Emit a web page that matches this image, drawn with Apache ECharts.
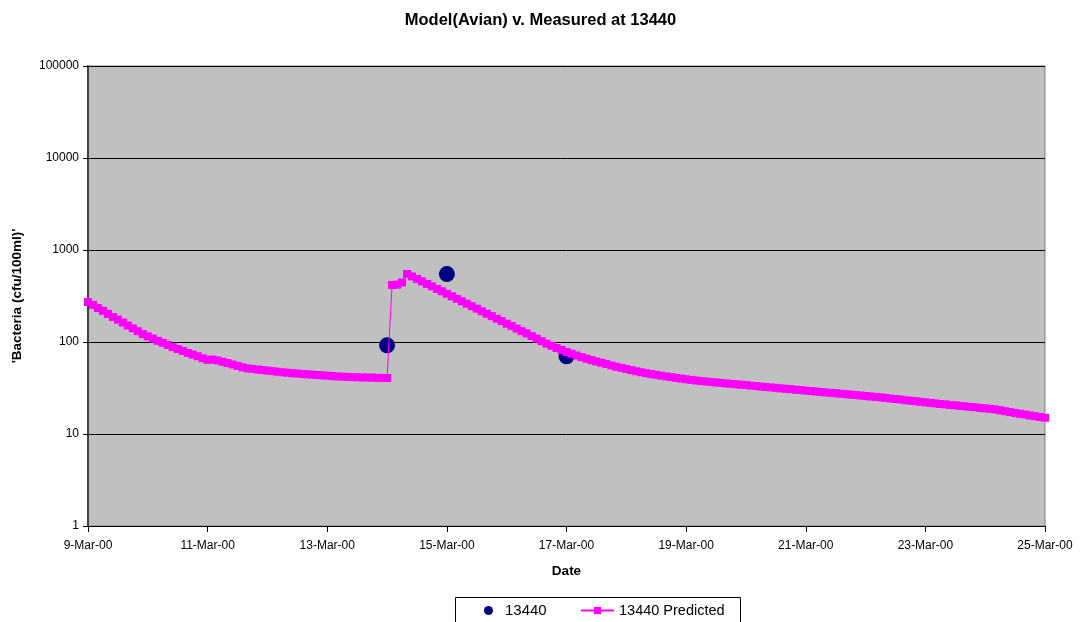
<!DOCTYPE html>
<html>
<head>
<meta charset="utf-8">
<title>Model(Avian) v. Measured at 13440</title>
<script src="https://cdn.jsdelivr.net/npm/echarts@6/dist/echarts.min.js"></script>
<style>
  html, body { margin: 0; padding: 0; background: #ffffff; }
  #chart { width: 1081px; height: 622px; }
</style>
</head>
<body>
<div id="chart"></div>
<script>
// Axis range (dates) and tick spacing along x, in days
const axisStart = '2000-03-09';
const axisEnd = '2000-03-25';
const dayTickStep = 2;
const monthNames = ['Jan','Feb','Mar','Apr','May','Jun','Jul','Aug','Sep','Oct','Nov','Dec'];

// y-axis decades (log scale)
const yTicks = [1, 10, 100, 1000, 10000, 100000];

// Measured bacteria counts at station 13440
const measuredDates = ['2000-03-14T00:00', '2000-03-15T00:00', '2000-03-17T00:00'];
const measuredValues = [92, 548, 70];

// Modelled counts, one value every 2 hours from 9-Mar-00 00:00
const predictedStart = '2000-03-09T00:00';
const predictedStepHours = 2;
const predictedValues = [
  272, 253, 234, 218, 202, 187, 175, 163, 151, 141, 131, 122,          // 9-Mar
  115, 109, 103, 98, 93, 88, 84, 80, 76, 73, 70, 66.5,                 // 10-Mar
  64, 64.5, 63, 61, 59, 57, 55, 53, 51.6, 51, 50.2, 49.5,              // 11-Mar
  48.9, 48.2, 47.5, 46.9, 46.3, 45.8, 45.4, 45.0, 44.6, 44.2, 43.8, 43.4, // 12-Mar
  43.0, 42.6, 42.2, 41.9, 41.7, 41.5, 41.4, 41.2, 41.1, 41.0, 40.8, 40.7, // 13-Mar
  40.6, 417, 420, 443, 549, 516, 485, 456, 428, 403, 378, 356,        // 14-Mar
  334, 314, 295, 277, 261, 245, 230, 216, 203, 191, 179, 169,          // 15-Mar
  158, 149, 140, 131, 124, 116, 109, 102, 96, 91, 86, 82,              // 16-Mar
  78, 74.6, 71.4, 68.5, 65.9, 63.5, 61.4, 59.4, 57.7, 55.5, 53.8, 52.4, // 17-Mar
  50.8, 49.4, 48.1, 46.9, 45.8, 44.8, 43.9, 43.1, 42.3, 41.5, 40.7, 40.0, // 18-Mar
  39.4, 38.7, 38.1, 37.6, 37.2, 36.7, 36.3, 35.9, 35.5, 35.1, 34.7, 34.4, // 19-Mar
  34.0, 33.6, 33.2, 32.8, 32.4, 32.1, 31.7, 31.3, 31.0, 30.7, 30.3, 30.0, // 20-Mar
  29.6, 29.3, 29.0, 28.6, 28.3, 28.0, 27.7, 27.4, 27.1, 26.8, 26.5, 26.2, // 21-Mar
  25.9, 25.6, 25.3, 25.0, 24.7, 24.3, 24.0, 23.7, 23.3, 23.0, 22.7, 22.4, // 22-Mar
  22.1, 21.8, 21.5, 21.2, 21.0, 20.7, 20.5, 20.2, 20.0, 19.7, 19.5, 19.2, // 23-Mar
  19.0, 18.8, 18.5, 18.1, 17.7, 17.3, 16.9, 16.6, 16.3, 15.9, 15.6, 15.3, // 24-Mar
  15.0                                                                  // 25-Mar
];

const DAY_MS = 86400000;
function utc(s) {
  const [d, t] = s.split('T');
  const [y, m, dd] = d.split('-').map(Number);
  const [hh, mm] = (t || '00:00').split(':').map(Number);
  return Date.UTC(y, m - 1, dd, hh, mm);
}
const origin = utc(axisStart);
const dayOffset = s => (utc(s) - origin) / DAY_MS;
const span = dayOffset(axisEnd);

function dateLabel(days) {
  const d = new Date(origin + Math.round(days * DAY_MS));
  const yy = String(d.getUTCFullYear() % 100).padStart(2, '0');
  return d.getUTCDate() + '-' + monthNames[d.getUTCMonth()] + '-' + yy;
}

const measuredData = measuredDates.map((s, i) => [dayOffset(s), measuredValues[i]]);
const p0 = dayOffset(predictedStart);
const predictedData = predictedValues.map((v, i) => [p0 + i * predictedStepHours / 24, v]);

const FONT = 'Arial, "Liberation Sans", sans-serif';
const NAVY = '#000080';
const MAGENTA = '#FF00FF';
const legendText = { fontFamily: FONT, fontSize: 14.5, color: '#000' };

const chart = echarts.init(document.getElementById('chart'), null, { renderer: 'canvas' });
chart.setOption({
  animation: false,
  backgroundColor: '#ffffff',
  textStyle: { fontFamily: FONT, color: '#000' },
  title: {
    text: 'Model(Avian) v. Measured at 13440',
    left: 'center',
    top: 7,
    textStyle: { fontFamily: FONT, fontSize: 16.5, fontWeight: 'bold', color: '#000' }
  },
  // legend frame
  graphic: [{
    type: 'rect',
    left: 455,
    top: 597,
    shape: { width: 285, height: 30 },
    style: { fill: '#ffffff', stroke: '#000', lineWidth: 1 },
    z: -1
  }],
  legend: [
    {
      left: 484,
      top: 603,
      padding: 0,
      itemWidth: 9,
      itemHeight: 9,
      textStyle: Object.assign({ padding: [0, 0, 0, 7] }, legendText, { fontSize: 15 }),
      data: [{ name: '13440', icon: 'circle', itemStyle: { color: NAVY } }]
    },
    {
      left: 580,
      top: 603,
      padding: 0,
      itemWidth: 33,
      itemHeight: 9,
      textStyle: legendText,
      data: [{ name: '13440 Predicted' }]
    }
  ],
  grid: {
    left: 88,
    right: 36,
    top: 66,
    bottom: 96,
    show: true,
    backgroundColor: '#C0C0C0',
    borderColor: '#808080',
    borderWidth: 1,
    containLabel: false
  },
  xAxis: {
    type: 'value',
    min: 0,
    max: span,
    interval: dayTickStep,
    name: 'Date',
    nameLocation: 'middle',
    nameGap: 38,
    nameTextStyle: { fontFamily: FONT, fontSize: 13.5, fontWeight: 'bold', color: '#000' },
    axisLine: { show: true, onZero: false, lineStyle: { color: '#000', width: 1 } },
    axisTick: { show: true, inside: false, length: 6, lineStyle: { color: '#000' } },
    axisLabel: {
      fontFamily: FONT, fontSize: 12, color: '#000', margin: 14,
      showMinLabel: true, showMaxLabel: true,
      formatter: v => dateLabel(v)
    },
    splitLine: { show: false }
  },
  yAxis: {
    type: 'log',
    logBase: 10,
    min: yTicks[0],
    max: yTicks[yTicks.length - 1],
    name: "'Bacteria (cfu/100ml)'",
    nameLocation: 'middle',
    nameGap: 64,
    nameRotate: 90,
    nameTextStyle: { fontFamily: FONT, fontSize: 13.5, fontWeight: 'bold', color: '#000' },
    axisLine: { show: true, lineStyle: { color: '#404040', width: 2 } },
    axisTick: { show: true, inside: false, length: 5, lineStyle: { color: '#000' } },
    axisLabel: {
      fontFamily: FONT, fontSize: 12, color: '#000', margin: 9,
      padding: [3, 0, 0, 0],
      formatter: v => String(Math.round(v))
    },
    splitLine: { show: true, lineStyle: { color: '#000', width: 1 } }
  },
  series: [
    {
      name: '13440',
      type: 'scatter',
      data: measuredData,
      symbol: 'circle',
      symbolSize: 16,
      itemStyle: { color: NAVY, opacity: 1 },
      z: 2
    },
    {
      name: '13440 Predicted',
      type: 'line',
      data: predictedData,
      symbol: 'rect',
      symbolSize: 8,
      showAllSymbol: true,
      lineStyle: { color: MAGENTA, width: 1 },
      itemStyle: { color: MAGENTA, borderWidth: 0 },
      z: 3
    }
  ]
});
</script>
</body>
</html>
